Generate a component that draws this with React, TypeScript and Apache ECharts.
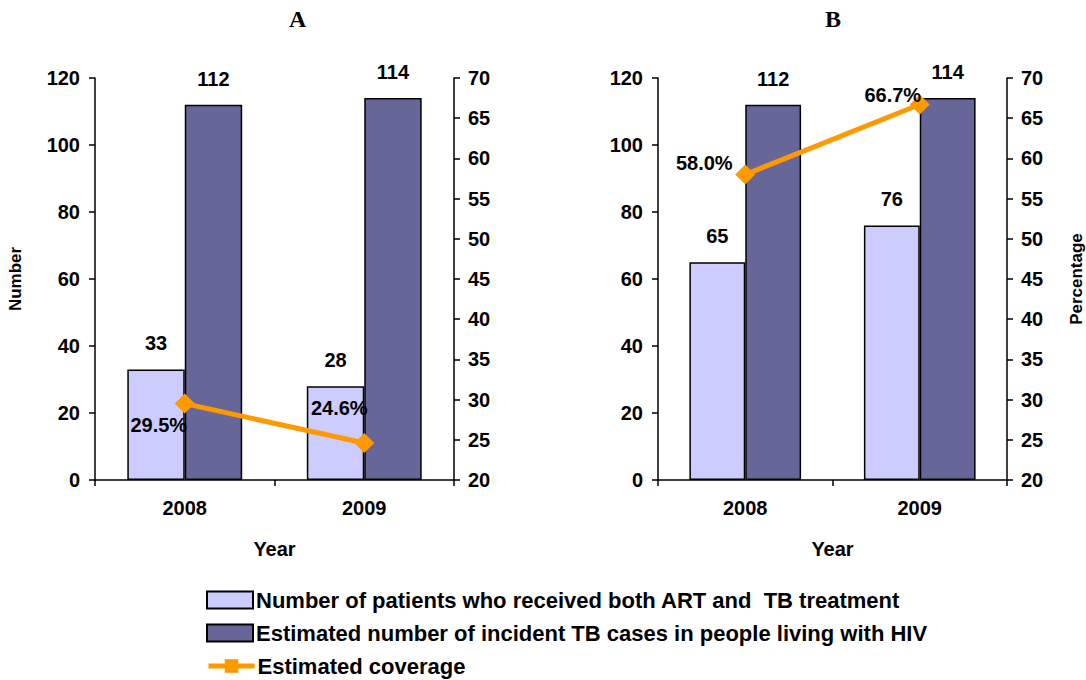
import React, { useEffect, useRef } from "react";
import * as echarts from "echarts";

// Categories and values
const years = ["2008", "2009"];
const panelTitles = ["A", "B"];

const seriesNames = [
  "Number of patients who received both ART and  TB treatment",
  "Estimated number of incident TB cases in people living with HIV",
  "Estimated coverage",
];

// Panel A
const treatedA = [33, 28];
const incidentA = [112, 114];
const coverageA = [29.5, 24.6];

// Panel B
const treatedB = [65, 76];
const incidentB = [112, 114];
const coverageB = [58.0, 66.7];

// Label offsets for coverage labels (px, relative to point)
const coverageOffsetsA: [number, number][] = [[-26, 21], [-25, -35]];
const coverageOffsetsB: [number, number][] = [[-41, -11], [-27, -10]];

const FONT = "Arial, 'Liberation Sans', sans-serif";
const LIGHT = "#CCCCFF";
const DARK = "#666699";
const ORANGE = "#FF9900";

const axisText = { color: "#000", fontFamily: FONT, fontWeight: "bold" as const, fontSize: 20 };
const nameText = { color: "#000", fontFamily: FONT, fontWeight: "bold" as const, fontSize: 17 };

function leftAxis(gridIndex: number, name: string) {
  return {
    type: "value",
    gridIndex,
    min: 0,
    max: 120,
    interval: 20,
    position: "left",
    name,
    nameLocation: "middle",
    nameGap: 71,
    nameRotate: 90,
    nameTextStyle: { ...nameText },
    axisLine: { show: true, lineStyle: { color: "#000", width: 1.5 } },
    axisTick: { show: true, length: 6, lineStyle: { color: "#000", width: 1.5 } },
    axisLabel: { ...axisText, margin: 15 },
    splitLine: { show: false },
  };
}

function rightAxis(gridIndex: number, name: string) {
  return {
    type: "value",
    gridIndex,
    min: 20,
    max: 70,
    interval: 5,
    position: "right",
    name,
    nameLocation: "middle",
    nameGap: 61,
    nameRotate: 90,
    nameTextStyle: { ...nameText },
    axisLine: { show: true, lineStyle: { color: "#000", width: 1.5 } },
    axisTick: { show: true, length: 6, lineStyle: { color: "#000", width: 1.5 } },
    axisLabel: { ...axisText, margin: 14 },
    splitLine: { show: false },
  };
}

function catAxis(gridIndex: number) {
  return {
    type: "category",
    gridIndex,
    data: years,
    name: "Year",
    nameLocation: "middle",
    nameGap: 59,
    nameTextStyle: { ...axisText },
    axisLine: { show: true, lineStyle: { color: "#000", width: 1.5 } },
    axisTick: { show: true, length: 6, lineStyle: { color: "#000", width: 1.5 } },
    axisLabel: { ...axisText, margin: 18 },
  };
}

function barSeries(name: string, data: number[], color: string, xAxisIndex: number, yAxisIndex: number) {
  return {
    type: "bar",
    name,
    data,
    xAxisIndex,
    yAxisIndex,
    barGap: "0%",
    barCategoryGap: "36%",
    itemStyle: { color, borderColor: "#000", borderWidth: 1.5 },
    label: {
      show: true,
      position: "top",
      distance: 16,
      ...axisText,
    },
  };
}

function lineSeries(data: number[], offsets: [number, number][], xAxisIndex: number, yAxisIndex: number) {
  return {
    type: "line",
    name: seriesNames[2],
    xAxisIndex,
    yAxisIndex,
    data: data.map((v, i) => ({
      value: v,
      symbol: "diamond",
      label: { offset: offsets[i] },
    })),
    // square in the legend, diamonds on the points
    symbol: "rect",
    symbolSize: 20,
    lineStyle: { color: ORANGE, width: 5 },
    itemStyle: { color: ORANGE },
    z: 5,
    label: {
      show: true,
      position: "inside",
      formatter: (p: any) => `${Number(p.value).toFixed(1)}%`,
      ...axisText,
    },
  };
}

// one legend row per series, stacked at fixed offsets
const legendRowTops = [589, 622, 655];
function legendRow(i: number) {
  return {
    orient: "vertical",
    left: 206,
    top: legendRowTops[i],
    padding: 0,
    itemWidth: 46,
    itemHeight: 17,
    lineStyle: { width: 5 },
    textStyle: { ...axisText, fontSize: 22, padding: [0, 0, 0, -2] },
    data: [i < 2 ? { name: seriesNames[i], icon: "rect" } : { name: seriesNames[i] }],
  };
}

export default function App() {
  const ref = useRef<HTMLDivElement>(null);

  useEffect(() => {
    if (!ref.current) return;
    const chart = echarts.init(ref.current, undefined, { renderer: "svg" });
    chart.setOption({
      animation: false,
      backgroundColor: "#fff",
      graphic: [
        {
          type: "text",
          left: 289,
          top: 7,
          style: { text: panelTitles[0], font: "bold 24px 'Times New Roman', 'Liberation Serif', serif", fill: "#000" },
        },
        {
          type: "text",
          left: 825,
          top: 7,
          style: { text: panelTitles[1], font: "bold 24px 'Times New Roman', 'Liberation Serif', serif", fill: "#000" },
        },
      ],
      legend: [legendRow(0), legendRow(1), legendRow(2)],
      grid: [
        { left: 95, right: 632, top: 78, bottom: 200 },
        { left: 658, right: 71, top: 78, bottom: 200 },
      ],
      xAxis: [catAxis(0), catAxis(1)],
      yAxis: [leftAxis(0, "Number"), rightAxis(0, ""), leftAxis(1, ""), rightAxis(1, "Percentage")],
      series: [
        barSeries(seriesNames[0], treatedA, LIGHT, 0, 0),
        barSeries(seriesNames[1], incidentA, DARK, 0, 0),
        lineSeries(coverageA, coverageOffsetsA, 0, 1),
        barSeries(seriesNames[0], treatedB, LIGHT, 1, 2),
        barSeries(seriesNames[1], incidentB, DARK, 1, 2),
        lineSeries(coverageB, coverageOffsetsB, 1, 3),
      ],
    });
    return () => chart.dispose();
  }, []);

  return <div ref={ref} style={{ width: 1086, height: 680, position: "absolute", left: 0, top: 0 }} />;
}
